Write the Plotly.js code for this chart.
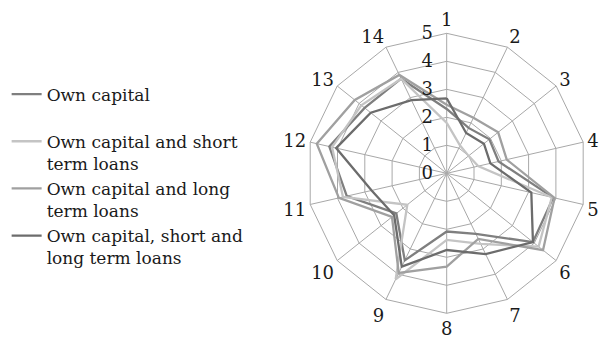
<!DOCTYPE html>
<html>
<head>
<meta charset="utf-8">
<script src="https://cdn.plot.ly/plotly-3.0.1.min.js"></script>
<style>
  html, body { margin: 0; padding: 0; background: #fff; }
  #chart { width: 603px; height: 340px; }
</style>
</head>
<body>
<div id="chart"></div>
<script>
// Fourteen criteria arranged clockwise from the top
const categories = ['1', '2', '3', '4', '5', '6', '7', '8', '9', '10', '11', '12', '13', '14'];

// Scores (0–5) for each financing variant
const ownCapital          = [2.3, 1.8, 1.95, 1.9, 3.9, 3.94, 2.4, 2.08, 3.45, 2.3, 3.66, 4.3, 3.75, 3.75];
const ownShortTerm        = [1.8, 1.1, 1.0, 1.15, 3.85, 4.2, 2.8, 2.38, 4.2, 1.8, 3.8, 4.2, 3.9, 3.75];
const ownLongTerm         = [2.45, 2.2, 2.35, 2.2, 3.95, 4.4, 2.6, 3.33, 3.95, 2.5, 3.95, 4.76, 4.2, 3.9];
const ownShortAndLongTerm = [2.68, 1.6, 1.7, 1.6, 3.1, 3.94, 3.2, 2.74, 3.7, 2.4, 2.75, 4.05, 3.47, 2.9];

const seriesNames = [
  'Own capital<br> ',
  'Own capital and short<br>term loans',
  'Own capital and long<br>term loans',
  'Own capital, short and<br>long term loans'
];
const seriesValues = [ownCapital, ownShortTerm, ownLongTerm, ownShortAndLongTerm];
const seriesColors = ['#7f7f7f', '#c4c4c4', '#a0a0a0', '#6c6c6c'];

const FONT = 'DejaVu Serif, serif';
const GRID = '#a8a8a8';

// Close each polygon by repeating the first point
const traces = seriesValues.map((vals, i) => ({
  type: 'scatterpolar',
  mode: 'lines',
  name: seriesNames[i],
  r: vals.concat(vals[0]),
  theta: categories.concat(categories[0]),
  line: { color: seriesColors[i], width: 2.3 },
  hoverinfo: 'skip'
}));

const layout = {
  width: 603,
  height: 340,
  margin: { l: 0, r: 0, t: 0, b: 0 },
  paper_bgcolor: '#fff',
  plot_bgcolor: '#fff',
  font: { family: FONT, size: 17, color: '#222' },
  showlegend: true,
  legend: {
    x: 0.011, y: 0.775, xanchor: 'left', yanchor: 'top',
    valign: 'top',
    font: { family: FONT, size: 17, color: '#1a1a1a' },
    bgcolor: 'rgba(0,0,0,0)',
    tracegroupgap: 0
  },
  polar: {
    domain: { x: [0.5086, 0.973], y: [0.0785, 0.902] },
    gridshape: 'linear',
    bgcolor: '#fff',
    angularaxis: {
      type: 'category',
      categoryarray: categories,
      direction: 'clockwise',
      rotation: 90,
      showline: true,
      linecolor: GRID,
      linewidth: 1,
      gridcolor: GRID,
      gridwidth: 1,
      ticks: '',
      tickfont: { family: FONT, size: 18, color: '#1a1a1a' }
    },
    radialaxis: {
      range: [0, 5],
      dtick: 1,
      angle: 90,
      side: 'counterclockwise',
      tickangle: 90,
      showline: false,
      ticks: 'outside',
      ticklen: 7,
      tickcolor: 'rgba(0,0,0,0)',
      gridcolor: GRID,
      gridwidth: 1,
      tickfont: { family: FONT, size: 18, color: '#1a1a1a' }
    }
  }
};

Plotly.newPlot('chart', traces, layout, { staticPlot: true, displayModeBar: false });
</script>
</body>
</html>
